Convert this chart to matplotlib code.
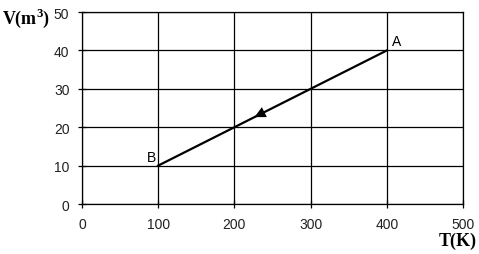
import matplotlib.pyplot as plt

plt.rcParams['mathtext.fontset'] = 'custom'
plt.rcParams['mathtext.rm'] = 'Liberation Serif'
plt.rcParams['mathtext.bf'] = 'Liberation Serif:bold'

# process line from A to B
T_pts = [400, 100]
V_pts = [40, 10]
labels = ['A', 'B']
xticks = [0, 100, 200, 300, 400, 500]
yticks = [0, 10, 20, 30, 40, 50]

fig = plt.figure(figsize=(4.79, 2.55), dpi=100)
ax = fig.add_axes([0.171, 0.196, 0.796, 0.753])

ax.set_xlim(0, 500)
ax.set_ylim(0, 50)
ax.set_xticks(xticks)
ax.set_yticks(yticks)
ax.grid(True, color='black', linewidth=0.9)
for s in ax.spines.values():
    s.set_linewidth(0.9)
ax.tick_params(direction='inout', length=6, width=0.9, labelsize=10, pad=6)
for lab in ax.get_xticklabels() + ax.get_yticklabels():
    lab.set_family('Liberation Sans')
    lab.set_color('#222222')

ax.plot(T_pts, V_pts, color='black', linewidth=1.6)

# arrow pointing from A towards B
f = 0.59
xm = T_pts[0] + f * (T_pts[1] - T_pts[0])
ym = V_pts[0] + f * (V_pts[1] - V_pts[0])
ax.annotate('', xy=(xm, ym), xytext=(xm + 20, ym + 2),
            arrowprops=dict(arrowstyle='-|>', color='black', lw=0, mutation_scale=20))

ax.text(T_pts[0] + 6, V_pts[0] + 0.5, labels[0], fontsize=10, family='Liberation Sans',
        ha='left', va='bottom')
ax.text(T_pts[1] - 3, V_pts[1] + 0.5, labels[1], fontsize=10, family='Liberation Sans',
        ha='right', va='bottom')

fig.text(0.005, 0.975, r'V(m$^\mathbf{3}$)', fontsize=13, fontweight='bold',
         family='Liberation Serif', ha='left', va='top')
fig.text(0.995, 0.02, 'T(K)', fontsize=13, fontweight='bold',
         family='Liberation Serif', ha='right', va='bottom')

fig.savefig('out.png', dpi=100)
